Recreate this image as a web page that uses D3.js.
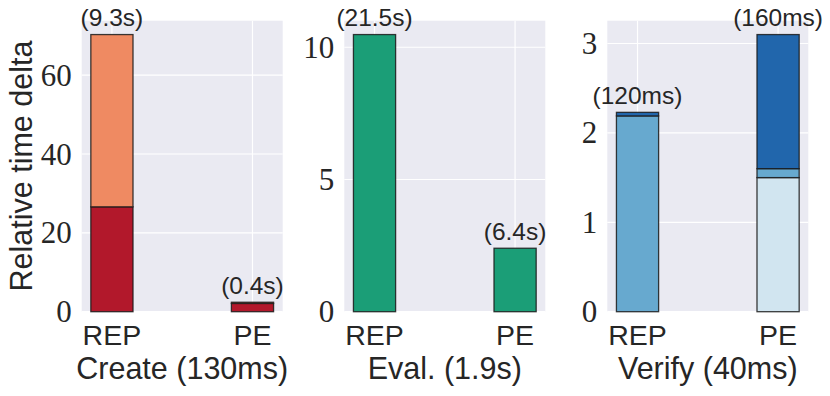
<!DOCTYPE html>
<html><head><meta charset="utf-8">
<script src="https://cdn.jsdelivr.net/npm/d3@7"></script>
<style>body{margin:0;background:#fff}</style>
</head><body>
<svg id="c" width="830" height="396"></svg>
<script>
const categories = ["REP", "PE"];
// Panel 1: Create
const createLower = [26.6, 2.1];
const createUpper = [43.7, 0.3];
const createLabels = ["(9.3s)", "(0.4s)"];
const createTicks = [0, 20, 40, 60];
// Panel 2: Eval
const evalValues = [10.48, 2.40];
const evalLabels = ["(21.5s)", "(6.4s)"];
const evalTicks = [0, 5, 10];
// Panel 3: Verify
const verifyLight = [0, 1.50];
const verifyMedium = [2.19, 0.10];
const verifyDark = [0.04, 1.50];
const verifyLabels = ["(120ms)", "(160ms)"];
const verifyTicks = [0, 1, 2, 3];
const titles = ["Create (130ms)", "Eval. (1.9s)", "Verify (40ms)"];

const panels = [
  {left: 81.7, series: [createLower, createUpper], colors: ["#b2182b", "#ef8a62"], labels: createLabels, ticks: createTicks, title: titles[0]},
  {left: 344.3, series: [evalValues], colors: ["#1b9e77"], labels: evalLabels, ticks: evalTicks, title: titles[1]},
  {left: 607.3, series: [verifyLight, verifyMedium, verifyDark], colors: ["#d1e5f0", "#67a9cf", "#2166ac"], labels: verifyLabels, ticks: verifyTicks, title: titles[2]}
];
const W = 201, plotTop = 20.7, plotBottom = 311.7;
const sans = "'Liberation Sans', Arial, sans-serif";
const serif = "'Liberation Serif', 'DejaVu Serif', serif";
const svg = d3.select("#c");

panels.forEach(p => {
  const g = svg.append("g");
  const totals = categories.map((c, i) => d3.sum(p.series, s => s[i]));
  const y = d3.scaleLinear().domain([0, d3.max(totals) * 1.05]).range([plotBottom, plotTop]);
  const x = d3.scaleLinear().domain([-0.215, 1.215]).range([p.left, p.left + W]);
  g.append("rect").attr("x", p.left).attr("y", plotTop).attr("width", W).attr("height", plotBottom - plotTop).attr("fill", "#eaeaf2");
  g.selectAll(".hg").data(p.ticks).join("line")
    .attr("x1", p.left).attr("x2", p.left + W).attr("y1", d => y(d)).attr("y2", d => y(d))
    .attr("stroke", "#fff").attr("stroke-width", 1.2);
  g.selectAll(".vg").data(categories).join("line")
    .attr("x1", (d, i) => x(i)).attr("x2", (d, i) => x(i)).attr("y1", plotTop).attr("y2", plotBottom)
    .attr("stroke", "#fff").attr("stroke-width", 1.2);
  const stacked = categories.map((c, i) => {
    let acc = 0;
    return p.series.map((s, k) => { const y0 = acc; acc += s[i]; return {i, k, y0, y1: acc}; });
  }).flat();
  g.selectAll(".bar").data(stacked.filter(d => d.y1 > d.y0)).join("rect")
    .attr("x", d => x(d.i - 0.15)).attr("width", d => x(d.i + 0.15) - x(d.i - 0.15))
    .attr("y", d => y(d.y1)).attr("height", d => y(d.y0) - y(d.y1))
    .attr("fill", d => p.colors[d.k])
    .attr("stroke", "#1a1a1a").attr("stroke-opacity", 0.85).attr("stroke-width", 1.3);
  g.selectAll(".vl").data(categories).join("text")
    .attr("x", (d, i) => x(i)).attr("y", (d, i) => y(totals[i]) - 8.5)
    .attr("text-anchor", "middle").attr("font-family", sans).attr("font-size", 24.5).attr("fill", "#262626")
    .text((d, i) => p.labels[i]);
  g.selectAll(".yt").data(p.ticks).join("text")
    .attr("x", p.left - 10).attr("y", d => y(d) + 10.5)
    .attr("text-anchor", "end").attr("font-family", serif).attr("font-size", 31).attr("fill", "#262626")
    .text(d => d);
  g.selectAll(".xt").data(categories).join("text")
    .attr("x", (d, i) => x(i)).attr("y", 344.5)
    .attr("text-anchor", "middle").attr("font-family", sans).attr("font-size", 28.5).attr("fill", "#262626")
    .text(d => d);
  g.append("text").attr("x", p.left + W / 2).attr("y", 379)
    .attr("text-anchor", "middle").attr("font-family", sans).attr("font-size", 30.5).attr("fill", "#262626")
    .text(p.title);
});
svg.append("text").attr("transform", "translate(32,166) rotate(-90)")
  .attr("text-anchor", "middle").attr("font-family", sans).attr("font-size", 30.5).attr("fill", "#262626")
  .text("Relative time delta");
</script>
</body></html>
